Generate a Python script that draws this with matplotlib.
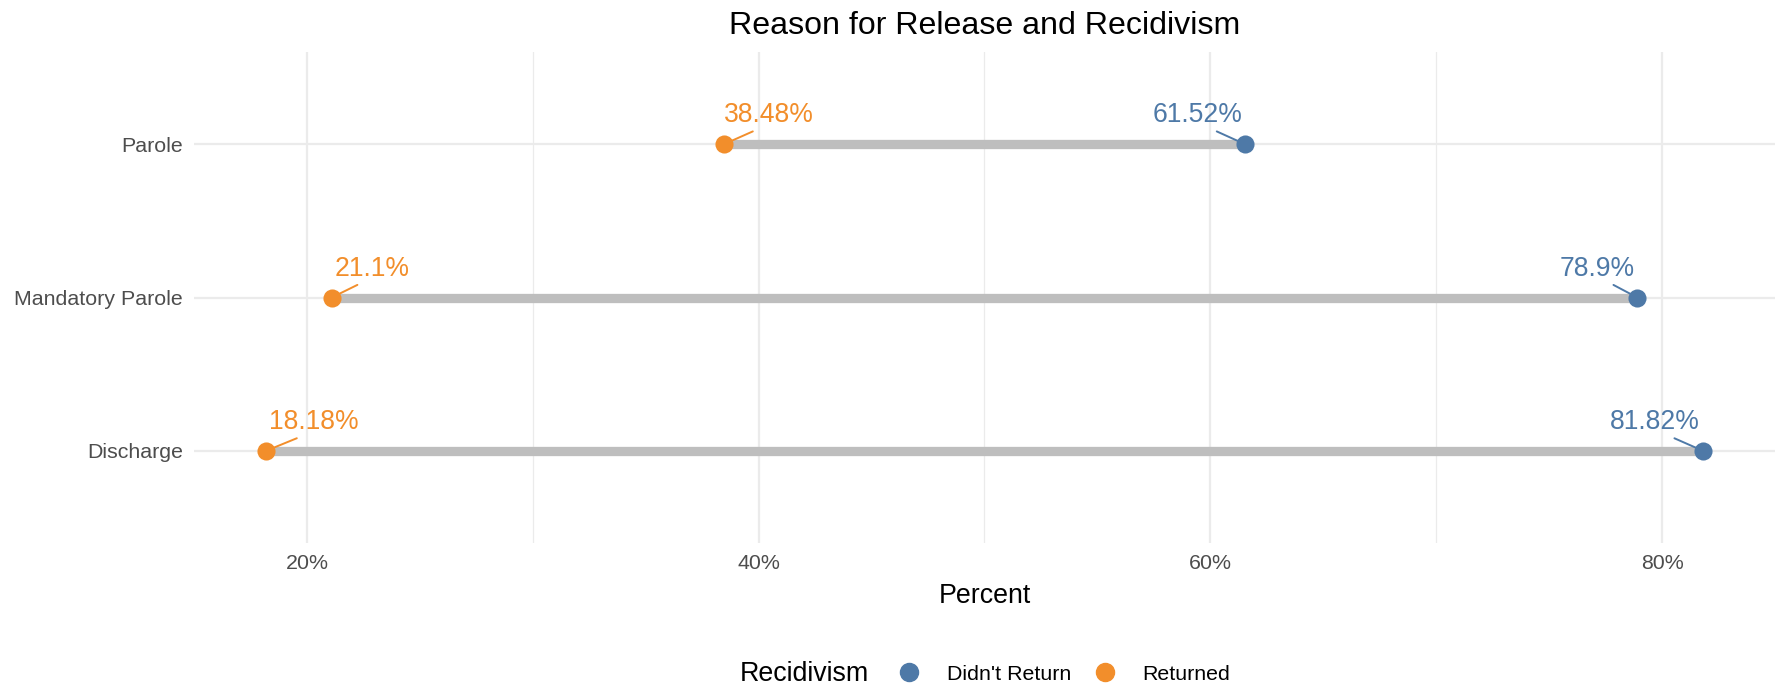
import matplotlib.pyplot as plt
from matplotlib.lines import Line2D
import numpy as np

plt.rcParams['font.family'] = ['Liberation Sans', 'DejaVu Sans']

reasons = ['Discharge', 'Mandatory Parole', 'Parole']
returned = [18.18, 21.1, 38.48]
didnt_return = [81.82, 78.9, 61.52]
xticks = [20, 40, 60, 80]
xtick_labels = ['20%', '40%', '60%', '80%']

# horizontal nudges of the repelled labels (pixels)
returned_dx = [48, 40, 45]
didnt_dx = [-48, -40, -47]

blue = '#4E79A7'
orange = '#F28E2B'

fig = plt.figure(figsize=(17.81, 6.89), dpi=100)
ax = fig.add_axes([194 / 1781, 146 / 689, 1581 / 1781, 491 / 689])

y = np.arange(len(reasons))

# grid (ggplot minimal look)
for xv in [30, 50, 70]:
  ax.axvline(xv, color='#EBEBEB', lw=0.9, zorder=0)
for xv in xticks:
  ax.axvline(xv, color='#EBEBEB', lw=1.6, zorder=0)
for yv in y:
  ax.axhline(yv, color='#EBEBEB', lw=1.6, zorder=0)

ax.hlines(y, returned, didnt_return, color='#BEBEBE', lw=6.7, zorder=2)
ax.scatter(didnt_return, y, s=170, color=blue, zorder=4, linewidths=0)
ax.scatter(returned, y, s=170, color=orange, zorder=4, linewidths=0)

for yi, v, dx in zip(y, returned, returned_dx):
  ax.annotate(f"{v:g}%", (v, yi), xytext=(dx, 29), textcoords='offset pixels',
              ha='center', va='center', fontsize=19.1, color=orange,
              arrowprops=dict(arrowstyle='-', color=orange, lw=1.4,
                              relpos=(0.4, 0.0), shrinkA=1, shrinkB=0))
for yi, v, dx in zip(y, didnt_return, didnt_dx):
  ax.annotate(f"{v:g}%", (v, yi), xytext=(dx, 29), textcoords='offset pixels',
              ha='center', va='center', fontsize=19.1, color=blue,
              arrowprops=dict(arrowstyle='-', color=blue, lw=1.4,
                              relpos=(0.63, 0.0), shrinkA=1, shrinkB=0))

ax.set_xlim(15, 85)
ax.set_ylim(-0.6, 2.6)
ax.set_xticks(xticks)
ax.set_xticklabels(xtick_labels)
ax.set_yticks(y)
ax.set_yticklabels(reasons)
ax.tick_params(length=0, labelsize=15.4, labelcolor='#4D4D4D', pad=8)
for s in ax.spines.values():
  s.set_visible(False)

ax.set_xlabel('Percent', fontsize=19.3, labelpad=7)
ax.set_title('Reason for Release and Recidivism', fontsize=23.1, pad=13)

fig.text(740 / 1781, 1 - 674 / 689, 'Recidivism', fontsize=19.3, va='center', ha='left')
handles = [Line2D([], [], marker='o', ls='', color=blue, markersize=13),
           Line2D([], [], marker='o', ls='', color=orange, markersize=13)]
fig.legend(handles, ["Didn't Return", 'Returned'], ncol=2, frameon=False,
           loc='center left', bbox_to_anchor=(874 / 1781, 1 - 674 / 689),
           fontsize=15.4, handletextpad=1.0, columnspacing=0.85, handlelength=1.5)

fig.savefig('out.png', dpi=100, facecolor='white')
